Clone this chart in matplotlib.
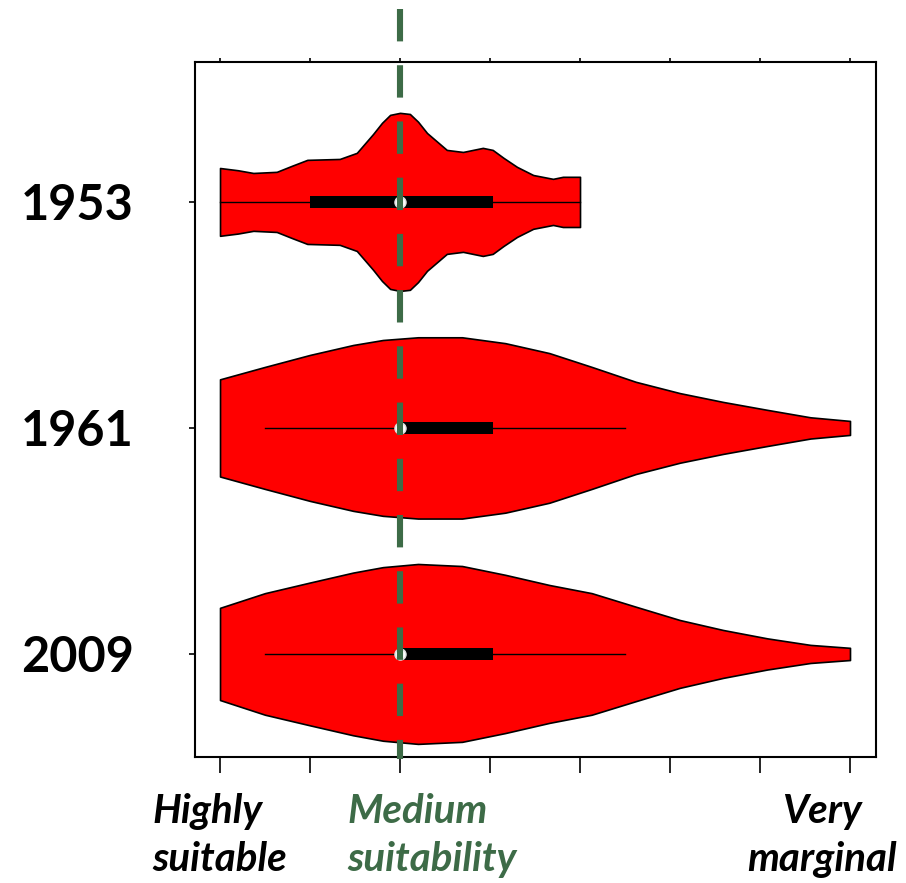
import matplotlib
matplotlib.use("Agg")
import matplotlib.pyplot as plt
import matplotlib.transforms as mtransforms
import numpy as np

# Suitability scale: 1 = highly suitable ... 8 = very marginal
years = ["1953", "1961", "2009"]
positions = [3, 2, 1]

# Violin outlines: position on the scale and half-width of each violin
x_1953 = [1.0, 1.2, 1.37, 1.63, 1.8, 1.97, 2.33, 2.52, 2.7, 2.8, 2.89, 3.0,
          3.11, 3.2, 3.3, 3.52, 3.7, 3.92, 4.03, 4.15, 4.3, 4.48, 4.7, 4.81, 5.0]
w_1953 = [0.150, 0.140, 0.128, 0.133, 0.160, 0.186, 0.190, 0.217, 0.300, 0.350,
          0.385, 0.394, 0.389, 0.355, 0.305, 0.230, 0.221, 0.239, 0.230, 0.195,
          0.155, 0.119, 0.102, 0.111, 0.111]

x_1961 = [1.0, 1.5, 2.0, 2.48, 2.81, 3.2, 3.69, 4.17, 4.66, 5.13, 5.62, 6.11,
          6.59, 7.08, 7.56, 8.0]
w_1961 = [0.215, 0.270, 0.323, 0.367, 0.389, 0.401, 0.401, 0.375, 0.331, 0.270,
          0.204, 0.154, 0.115, 0.080, 0.047, 0.031]

x_2009 = [1.0, 1.5, 2.0, 2.48, 2.81, 3.2, 3.69, 4.17, 4.66, 5.13, 5.62, 6.11,
          6.59, 7.08, 7.56, 8.0]
w_2009 = [0.204, 0.269, 0.316, 0.360, 0.384, 0.398, 0.389, 0.350, 0.305, 0.269,
          0.209, 0.150, 0.106, 0.069, 0.040, 0.027]

# Box-plot summaries per year
whisker_low = [1.0, 1.5, 1.5]
q1 = [2.0, 3.0, 3.0]
median = [3.0, 3.0, 3.0]
q3 = [4.03, 4.03, 4.03]
whisker_high = [5.0, 5.5, 5.5]

reference_level = 3.0  # medium suitability

scale_ticks = [1, 2, 3, 4, 5, 6, 7, 8]

RED = "#ff0000"
GREEN = "#3d6b47"
FONT = "Lato"

fig = plt.figure(figsize=(9.06, 8.83), dpi=100)
W, H = 906, 883
ax = fig.add_axes([195 / W, 1 - 757 / H, (876 - 195) / W, (757 - 62) / H])

ax.set_xlim(0.722, 8.289)
ax.set_ylim(0.544, 3.619)

outlines = [(x_1953, w_1953), (x_1961, w_1961), (x_2009, w_2009)]
for pos, (xs, ws) in zip(positions, outlines):
    xs = np.asarray(xs)
    ws = np.asarray(ws)
    ax.fill_between(xs, pos - ws, pos + ws, facecolor=RED, edgecolor="black",
                    linewidth=1.2, zorder=2)

for i, pos in enumerate(positions):
    ax.plot([whisker_low[i], whisker_high[i]], [pos, pos], color="black",
            linewidth=1.0, zorder=3)
    ax.barh(pos, q3[i] - q1[i], left=q1[i], height=0.052, color="black",
            zorder=4)
    ax.plot(median[i], pos, marker="o", markersize=8, markerfacecolor="white",
            markeredgecolor="#e0e0e0", markeredgewidth=1.0, linestyle="none",
            zorder=5)

# Dashed reference line, running past the top and bottom of the frame
ax.plot([reference_level, reference_level], [3.854, 0.535], color=GREEN,
        linewidth=4.4, dashes=(5.3, 3.9), solid_capstyle="butt",
        dash_capstyle="butt", clip_on=False, zorder=6)

for side in ["left", "right", "top", "bottom"]:
    ax.spines[side].set_linewidth(1.5)
    ax.spines[side].set_color("black")

ax.set_xticks(scale_ticks)
ax.set_xticklabels([""] * len(scale_ticks))
ax.tick_params(axis="x", which="major", direction="out", length=11.5,
               width=1.2, top=True, bottom=True, labeltop=False)
for t in ax.xaxis.get_major_ticks():
    t.tick2line.set_markersize(3)

ax.set_yticks(positions)
ax.set_yticklabels(years, fontsize=35, fontweight="bold", family=FONT)
ax.tick_params(axis="y", direction="out", length=4, width=1.2, pad=40,
               right=False)

trans = mtransforms.blended_transform_factory(ax.transData, fig.transFigure)
label_kw = dict(fontsize=29, fontweight="bold", fontstyle="italic",
                family=FONT, va="top", linespacing=1.38)
ax.text(0.25, 1 - 793 / H, "Highly\nsuitable", transform=trans, ha="left",
        color="black", **label_kw)
ax.text(2.42, 1 - 793 / H, "Medium\nsuitability", transform=trans, ha="left",
        color=GREEN, **label_kw)
ax.text(7.69, 1 - 793 / H, "Very\nmarginal", transform=trans, ha="center",
        multialignment="center", color="black", **label_kw)

fig.savefig("out.png", dpi=100)
